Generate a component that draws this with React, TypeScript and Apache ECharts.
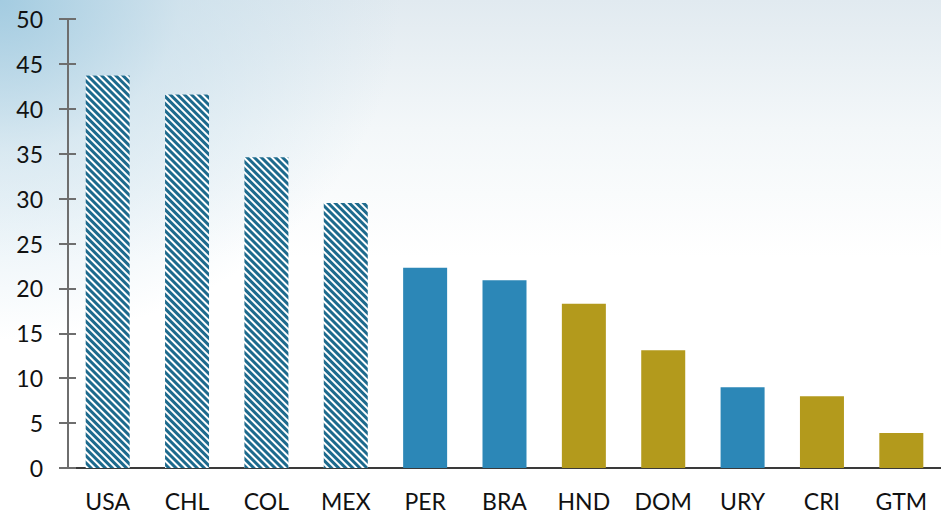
import React, { useEffect, useRef } from "react";
import * as echarts from "echarts";

const categories = ["USA", "CHL", "COL", "MEX", "PER", "BRA", "HND", "DOM", "URY", "CRI", "GTM"];
const values = [43.7, 41.6, 34.6, 29.5, 22.3, 20.9, 18.3, 13.1, 9.0, 8.0, 3.9];
// group per category: "hatch" | "blue" | "olive"
const groups = ["hatch", "hatch", "hatch", "hatch", "blue", "blue", "olive", "olive", "blue", "olive", "olive"];
const yTicks = { min: 0, max: 50, interval: 5 };

const BLUE = "#2c87b7";
const OLIVE = "#b39a1c";
const HATCH = "#1d6a8d";
const FONT = "Lato, 'Open Sans', sans-serif";

export default function App() {
  const ref = useRef<HTMLDivElement>(null);
  useEffect(() => {
    document.body.style.margin = "0";
    if (!ref.current) return;
    const chart = echarts.init(ref.current, null, { renderer: "svg" });
    const data = values.map((v, i) => {
      const g = groups[i];
      if (g === "hatch") {
        return {
          value: v,
          itemStyle: {
            color: "#ffffff",
            decal: {
              symbol: "rect",
              symbolSize: 1,
              color: HATCH,
              dashArrayX: [1, 0],
              dashArrayY: [3, 2],
              rotation: Math.PI / 4,
            },
          },
        };
      }
      return { value: v, itemStyle: { color: g === "blue" ? BLUE : OLIVE } };
    });
    chart.setOption({
      animation: false,
      backgroundColor: "transparent",
      grid: { left: 68, right: -5, top: 19, bottom: 47, containLabel: false },
      xAxis: {
        type: "category",
        data: categories,
        axisLine: { show: true, lineStyle: { color: "#3a3a3a", width: 2 } },
        axisTick: { show: false },
        axisLabel: { color: "#111", fontFamily: FONT, fontSize: 23, margin: 21 },
      },
      yAxis: [
        {
          type: "value",
          min: yTicks.min,
          max: yTicks.max,
          interval: yTicks.interval,
          splitLine: { show: false },
          axisLine: { show: true, lineStyle: { color: "#6e6e6e", width: 2 } },
          axisTick: { show: true, length: 9, lineStyle: { color: "#6e6e6e", width: 2 } },
          axisLabel: { color: "#111", fontFamily: FONT, fontSize: 23, margin: 25 },
        },
        {
          type: "value",
          position: "left",
          min: yTicks.min,
          max: yTicks.max,
          interval: yTicks.interval,
          splitLine: { show: false },
          axisLine: { show: false },
          axisTick: { show: true, inside: true, length: 8, lineStyle: { color: "#6e6e6e", width: 2 } },
          axisLabel: { show: false },
        },
      ],
      series: [
        {
          type: "bar",
          data,
          barWidth: 44,
          yAxisIndex: 0,
        },
      ],
    });
    return () => chart.dispose();
  }, []);
  return (
    <div
      style={{
        width: 941,
        height: 515,
        background:
          "radial-gradient(ellipse 400px 340px at 0px 0px, rgba(160,202,224,0.95) 0%, rgba(190,218,233,0.5) 45%, rgba(255,255,255,0) 100%), linear-gradient(to bottom, #e1eaf0 0%, #f3f7f9 25%, #ffffff 50%)",
      }}
    >
      <div ref={ref} style={{ width: 941, height: 515 }} />
    </div>
  );
}
